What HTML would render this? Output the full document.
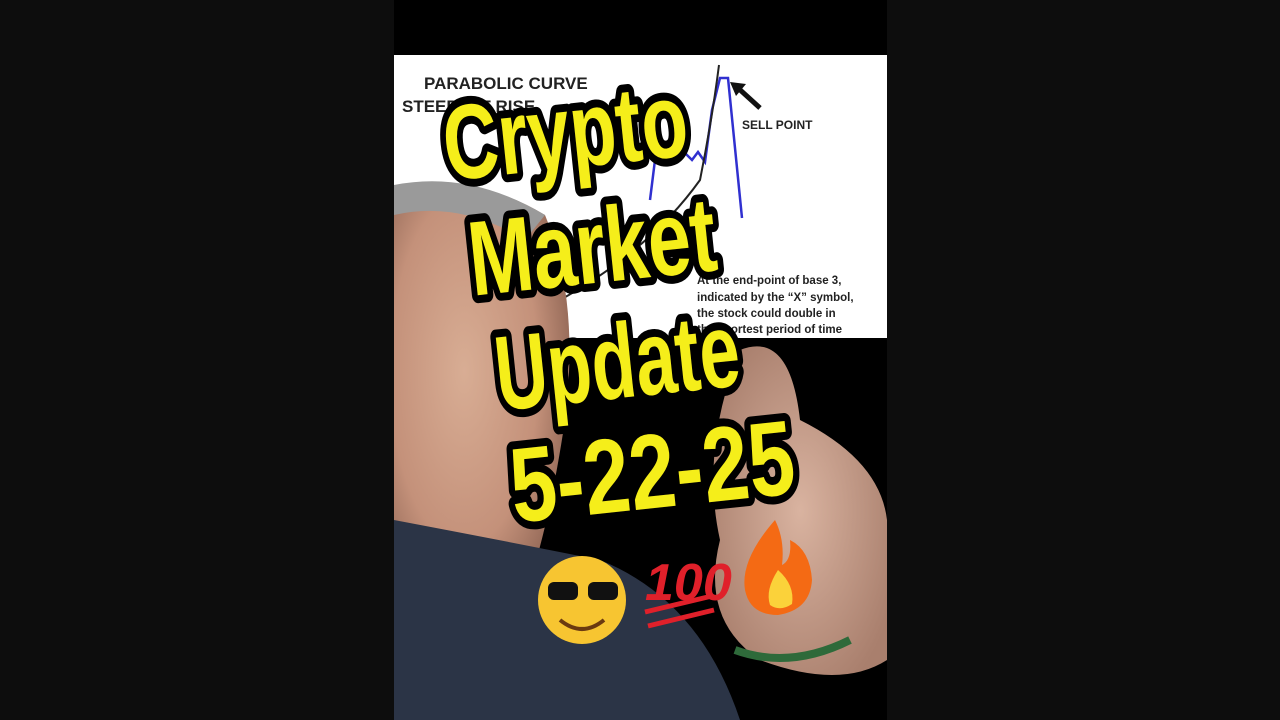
<!DOCTYPE html>
<html><head><meta charset="utf-8"><style>
body{margin:0;width:1280px;height:720px;background:#0d0d0d;overflow:hidden;position:relative;font-family:"Liberation Sans",sans-serif}
#panel{position:absolute;left:394px;top:0;width:493px;height:720px;background:#000;overflow:hidden}
</style></head><body>
<div id="panel">
<svg width="493" height="720" viewBox="394 0 493 720">
<defs>
<radialGradient id="skin" cx="0.4" cy="0.45" r="0.6"><stop offset="0" stop-color="#d8ad94"/><stop offset="0.7" stop-color="#c4917a"/><stop offset="1" stop-color="#9a6e5c"/></radialGradient>
<radialGradient id="hand" cx="0.5" cy="0.5" r="0.6"><stop offset="0" stop-color="#d9b3a0"/><stop offset="1" stop-color="#a97f6d"/></radialGradient>
</defs>
<rect x="394" y="55" width="493" height="283" fill="#fff"/>
<text x="424" y="89" font-size="17" font-weight="bold" fill="#222">PARABOLIC CURVE</text>
<text x="402" y="112" font-size="17" font-weight="bold" fill="#222">STEEPEST RISE</text>
<polyline points="650,200 656,152 663,162 670,154 677,162 684,152 692,160 698,152 705,162 712,110 720,78 728,78 742,218" fill="none" stroke="#3030d0" stroke-width="2.5"/>
<path d="M560,300 Q650,250 700,180 Q712,120 719,65" fill="none" stroke="#222" stroke-width="2"/>
<line x1="760" y1="108" x2="738" y2="88" stroke="#111" stroke-width="5"/>
<polygon points="730,82 746,84 736,96" fill="#111"/>
<text x="742" y="129" font-size="12" font-weight="bold" fill="#222">SELL POINT</text>
<g font-size="11.5" font-weight="bold" fill="#222">
<text x="697" y="284">At the end-point of base 3,</text>
<text x="697" y="301">indicated by the “X” symbol,</text>
<text x="697" y="317">the stock could double in</text>
<text x="697" y="333">the shortest period of time</text>
</g>
<path d="M394,190 Q470,170 545,215 Q580,300 565,420 Q550,520 530,580 L394,600 Z" fill="url(#skin)"/>
<path d="M394,185 Q470,170 545,215 L525,240 Q460,200 394,215 Z" fill="#9a9a9a"/>
<path d="M394,520 Q500,540 600,560 Q700,600 740,720 L394,720 Z" fill="#2b3446"/>
<path d="M740,350 Q790,330 800,420 Q880,460 887,520 L887,660 Q840,690 760,660 Q700,620 720,540 Q700,450 740,350 Z" fill="url(#hand)"/>
<path d="M735,650 Q790,670 850,640" stroke="#2e6a3a" stroke-width="8" fill="none"/>
<g font-weight="bold" font-size="106" text-anchor="middle" fill="#f5ee1a" stroke="#000" stroke-width="16" stroke-linejoin="round" paint-order="stroke">
<text x="565" y="168" textLength="245" lengthAdjust="spacingAndGlyphs" transform="rotate(-6 565 130)">Crypto</text>
<text x="592" y="283" textLength="248" lengthAdjust="spacingAndGlyphs" transform="rotate(-6 592 245)">Market</text>
<text x="617" y="398" textLength="245" lengthAdjust="spacingAndGlyphs" transform="rotate(-6 617 360)">Update</text>
<text x="652" y="508" textLength="285" lengthAdjust="spacingAndGlyphs" transform="rotate(-6 652 470)">5-22-25</text>
</g>
<g>
<circle cx="582" cy="600" r="44" fill="#f7c531"/>
<rect x="548" y="582" width="30" height="18" rx="6" fill="#111"/><rect x="588" y="582" width="30" height="18" rx="6" fill="#111"/>
<path d="M560,620 Q582,638 604,620" stroke="#6b3a10" stroke-width="4" fill="none"/>
<text x="645" y="600" font-size="52" font-weight="bold" fill="#e0202a" font-style="italic">100</text>
<line x1="645" y1="612" x2="712" y2="596" stroke="#e0202a" stroke-width="5"/><line x1="648" y1="626" x2="714" y2="610" stroke="#e0202a" stroke-width="5"/>
<path d="M775,520 Q740,560 745,590 Q750,615 778,615 Q810,610 812,580 Q810,550 790,540 Q792,560 782,565 Q785,540 775,520 Z" fill="#f46a14"/>
<path d="M778,570 Q765,590 770,605 Q780,612 792,604 Q795,585 778,570 Z" fill="#fbd23a"/>
</g>
</svg>
</div>
</body></html>
